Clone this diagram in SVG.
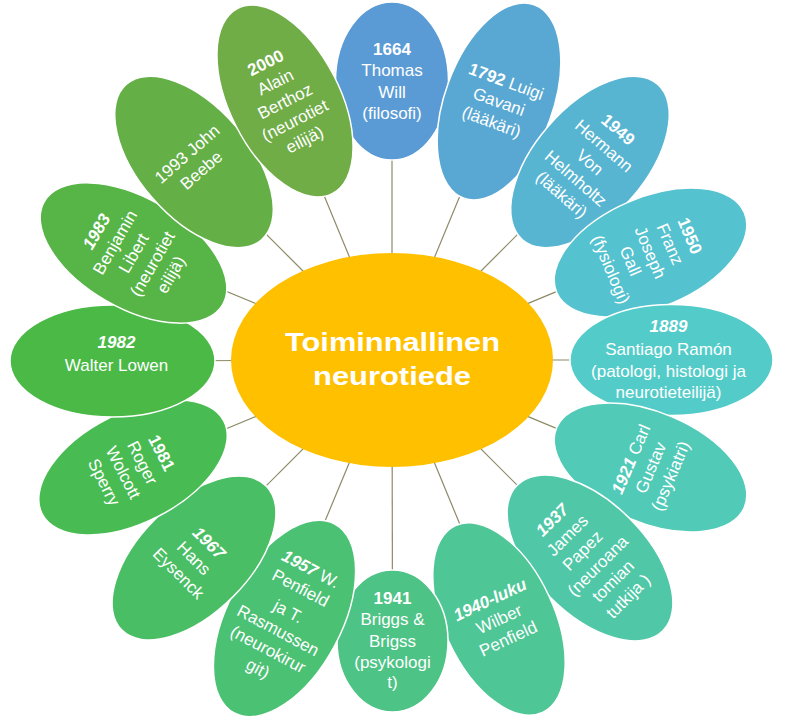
<svg xmlns="http://www.w3.org/2000/svg" width="793" height="720" viewBox="0 0 793 720">
<style>
.p{stroke:#ffffff;stroke-width:1.5}
.t{font-family:"Liberation Sans",Arial,sans-serif;font-size:17px;fill:#ffffff;text-anchor:middle}
.b{font-weight:bold}
.bi{font-weight:bold;font-style:italic}
.c{stroke:#8d8a66;stroke-width:1.2;fill:none}
.ct{font-family:"Liberation Sans",Arial,sans-serif;font-size:25px;font-weight:bold;fill:#ffffff;text-anchor:middle}
</style>
<rect width="793" height="720" fill="#ffffff"/>
<g id="connectors">
<line class="c" x1="392" y1="360" x2="392" y2="81"/>
<line class="c" x1="392" y1="360" x2="499" y2="101.5"/>
<line class="c" x1="392" y1="360" x2="590" y2="162"/>
<line class="c" x1="392" y1="360" x2="650.5" y2="252.5"/>
<line class="c" x1="392" y1="360" x2="671.5" y2="360"/>
<line class="c" x1="392" y1="360" x2="650.5" y2="467.5"/>
<line class="c" x1="392" y1="360" x2="590" y2="558"/>
<line class="c" x1="392" y1="360" x2="499" y2="619"/>
<line class="c" x1="392" y1="360" x2="392.5" y2="641"/>
<line class="c" x1="392" y1="360" x2="284.5" y2="618.5"/>
<line class="c" x1="392" y1="360" x2="194" y2="558"/>
<line class="c" x1="392" y1="360" x2="133" y2="467.5"/>
<line class="c" x1="392" y1="360" x2="112.5" y2="361"/>
<line class="c" x1="392" y1="360" x2="133.5" y2="253"/>
<line class="c" x1="392" y1="360" x2="194" y2="162"/>
<line class="c" x1="392" y1="360" x2="285" y2="101"/>
</g>
<g id="n1664" transform="translate(392,81)">
<ellipse class="p" rx="56.5" ry="79" fill="hsl(208.5,59.2%,59.6%)"/>
<text class="t"><tspan x="0" y="-26.5" class="b">1664</tspan><tspan x="0" y="-5">Thomas</tspan><tspan x="0" y="16.5">Will</tspan><tspan x="0" y="38">(filosofi)</tspan></text>
</g>
<g id="n1792" transform="translate(499,101.5) rotate(20)">
<ellipse class="p" rx="54" ry="103" fill="hsl(201,58%,58.8%)"/>
<text class="t"><tspan x="0" y="-15.5"><tspan class="b">1792</tspan> Luigi</tspan><tspan x="0" y="6">Gavani</tspan><tspan x="0" y="27.5">(lääkäri)</tspan></text>
</g>
<g id="n1949" transform="translate(590,162) rotate(41)">
<ellipse class="p" rx="55" ry="103" fill="hsl(193.5,56.8%,58%)"/>
<text class="t"><tspan x="0" y="-37" class="b">1949</tspan><tspan x="0" y="-15.5">Hermann</tspan><tspan x="0" y="6">Von</tspan><tspan x="0" y="27.5">Helmholtz</tspan><tspan x="0" y="49">(lääkäri)</tspan></text>
</g>
<g id="n1950" transform="translate(650.5,252.5) rotate(67)">
<ellipse class="p" rx="55" ry="102" fill="hsl(186,55.6%,57.2%)"/>
<text class="t"><tspan x="0" y="-37" class="b">1950</tspan><tspan x="0" y="-15.5">Franz</tspan><tspan x="0" y="6">Joseph</tspan><tspan x="0" y="27.5">Gall</tspan><tspan x="0" y="49">(fysiologi)</tspan></text>
</g>
<g id="n1889" transform="translate(671.5,360)">
<ellipse class="p" rx="101.5" ry="55.5" fill="hsl(178.5,54.4%,56.4%)"/>
<text class="t"><tspan x="-3" y="-28" class="bi">1889</tspan><tspan x="-3" y="-5.5">Santiago Ramón</tspan><tspan x="-3" y="16.5">(patologi, histologi ja</tspan><tspan x="-3" y="38">neurotieteilijä)</tspan></text>
</g>
<g id="n1921" transform="translate(650.5,467.5) rotate(-67)">
<ellipse class="p" rx="55" ry="102" fill="hsl(171,53.3%,55.6%)"/>
<text class="t"><tspan x="0" y="-15.5"><tspan class="bi">1921</tspan> Carl</tspan><tspan x="0" y="6">Gustav</tspan><tspan x="0" y="27.5">(psykiatri)</tspan></text>
</g>
<g id="n1937" transform="translate(590,558) rotate(-45)">
<ellipse class="p" rx="56" ry="103" fill="hsl(163.4,52.1%,54.9%)"/>
<text class="t"><tspan x="0" y="-47.75" class="bi">1937</tspan><tspan x="0" y="-26.25">James</tspan><tspan x="0" y="-4.75">Papez</tspan><tspan x="0" y="16.75">(neuroana</tspan><tspan x="0" y="38.25">tomian</tspan><tspan x="0" y="59.75">tutkija )</tspan></text>
</g>
<g id="n1940" transform="translate(499,619) rotate(-25)">
<ellipse class="p" rx="55" ry="103" fill="hsl(155.9,50.9%,54.1%)"/>
<text class="t"><tspan x="0" y="-15.5" class="bi">1940-luku</tspan><tspan x="0" y="6">Wilber</tspan><tspan x="0" y="27.5">Penfield</tspan></text>
</g>
<g id="n1941" transform="translate(392.5,641)">
<ellipse class="p" rx="55.5" ry="71" fill="hsl(148.4,49.7%,53.3%)"/>
<text class="t"><tspan x="0" y="-37.5" class="b">1941</tspan><tspan x="0" y="-16">Briggs &amp;</tspan><tspan x="0" y="5.5">Brigss</tspan><tspan x="0" y="26.5">(psykologi</tspan><tspan x="0" y="47">t)</tspan></text>
</g>
<g id="n1957" transform="translate(284.5,618.5) rotate(28)">
<ellipse class="p" rx="57" ry="107" fill="hsl(140.9,48.5%,52.5%)"/>
<text class="t"><tspan x="0" y="-50.25"><tspan class="bi">1957</tspan> W.</tspan><tspan x="0" y="-28.75">Penfield</tspan><tspan x="0" y="-2.25">ja T.</tspan><tspan x="0" y="19.25">Rasmussen</tspan><tspan x="0" y="40.75">(neurokirur</tspan><tspan x="0" y="62.25">git)</tspan></text>
</g>
<g id="n1967" transform="translate(194,558) rotate(45)">
<ellipse class="p" rx="55" ry="102" fill="hsl(133.4,47.3%,51.7%)"/>
<text class="t"><tspan x="0" y="-15.5" class="bi">1967</tspan><tspan x="0" y="6">Hans</tspan><tspan x="0" y="27.5">Eysenck</tspan></text>
</g>
<g id="n1981" transform="translate(133,467.5) rotate(63)">
<ellipse class="p" rx="55" ry="102" fill="hsl(125.9,46.1%,50.9%)"/>
<text class="t"><tspan x="0" y="-26.25" class="b">1981</tspan><tspan x="0" y="-4.75">Roger</tspan><tspan x="0" y="16.75">Wolcott</tspan><tspan x="0" y="38.25">Sperry</tspan></text>
</g>
<g id="n1982" transform="translate(112.5,361)">
<ellipse class="p" rx="102.5" ry="56" fill="hsl(118.4,45%,50.1%)"/>
<text class="t"><tspan x="4" y="-13" class="bi">1982</tspan><tspan x="4" y="9.5">Walter Lowen</tspan></text>
</g>
<g id="n1983" transform="translate(133.5,253) rotate(-60)">
<ellipse class="p" rx="55" ry="103" fill="hsl(110.9,43.8%,49.3%)"/>
<text class="t"><tspan x="0" y="-37" class="bi">1983</tspan><tspan x="0" y="-15.5">Benjamin</tspan><tspan x="0" y="6">Libert</tspan><tspan x="0" y="27.5">(neurotiet</tspan><tspan x="0" y="49">eilijä)</tspan></text>
</g>
<g id="n1993" transform="translate(194,162) rotate(-41)">
<ellipse class="p" rx="55" ry="103" fill="hsl(103.4,42.6%,48.5%)"/>
<text class="t"><tspan x="0" y="-4.75">1993 John</tspan><tspan x="0" y="16.75">Beebe</tspan></text>
</g>
<g id="n2000" transform="translate(285,101) rotate(-27)">
<ellipse class="p" rx="55" ry="104" fill="hsl(95.9,41.8%,47.8%)"/>
<text class="t"><tspan x="0" y="-37" class="b">2000</tspan><tspan x="0" y="-15.5">Alain</tspan><tspan x="0" y="6">Berthoz</tspan><tspan x="0" y="27.5">(neurotiet</tspan><tspan x="0" y="49">eilijä)</tspan></text>
</g>
<g id="center">
<ellipse cx="392" cy="360" rx="161" ry="107" fill="#ffc000"/>
<text class="ct" x="392.5" y="351" textLength="215" lengthAdjust="spacingAndGlyphs">Toiminnallinen</text>
<text class="ct" x="392" y="385" textLength="158" lengthAdjust="spacingAndGlyphs">neurotiede</text>
</g>
</svg>
